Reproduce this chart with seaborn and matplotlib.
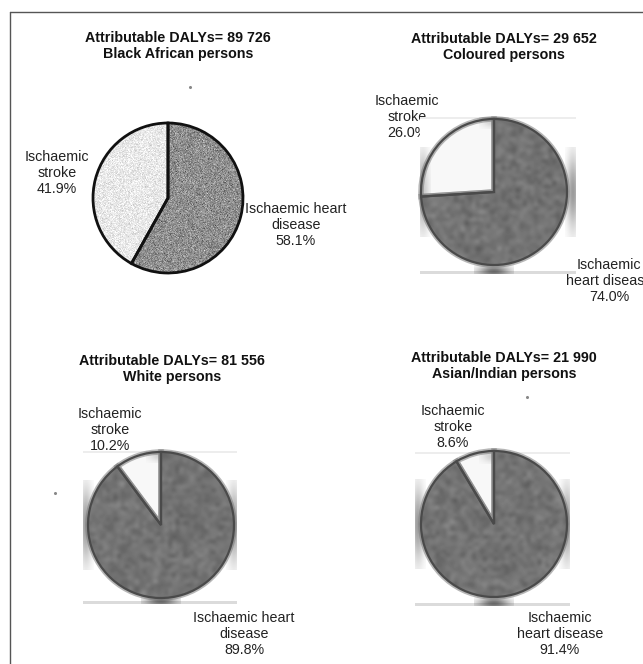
import numpy as np
import matplotlib
matplotlib.use("Agg")
import matplotlib.pyplot as plt
from matplotlib.patches import Rectangle
import seaborn as sns

# ---- data -------------------------------------------------------------
groups = ["Black African persons", "Coloured persons", "White persons", "Asian/Indian persons"]
attributable_dalys = ["89 726", "29 652", "81 556", "21 990"]
stroke_pct = [41.9, 26.0, 10.2, 8.6]
heart_pct = [58.1, 74.0, 89.8, 91.4]
heart_label_lines = ["Ischaemic heart\ndisease", "Ischaemic\nheart disease",
                     "Ischaemic heart\ndisease", "Ischaemic\nheart disease"]

# ---- page geometry (pixels, y measured from the top) -------------------
W, H = 643, 664
layout = [
    dict(center=(168, 198), r=75, title=(178, 46), stroke_xy=(57, 173), heart_xy=(296, 225), box=None),
    dict(center=(494, 192), r=73, title=(504, 47), stroke_xy=(407, 117), heart_xy=(609, 281), box=(420, 117, 576, 274)),
    dict(center=(161, 525), r=73, title=(172, 369), stroke_xy=(110, 430), heart_xy=(244, 634), box=(83, 451, 237, 604)),
    dict(center=(494, 524), r=73, title=(504, 366), stroke_xy=(453, 427), heart_xy=(560, 634), box=(415, 452, 570, 606)),
]

sns.set_theme(style="white")
plt.rcParams["font.family"] = ["Liberation Sans", "DejaVu Sans"]
greys = sns.color_palette("Greys", 10)

fig = plt.figure(figsize=(W / 100, H / 100), dpi=100)
ax = fig.add_axes([0, 0, 1, 1])
rng = np.random.default_rng(11)


def Y(y):
    return H - y


def textured(wedge, cx, cy, r, base, amp, n, interp):
    grain = np.clip(base + amp * rng.standard_normal((n, n)), 0, 1)
    im = ax.imshow(grain, cmap="gray", vmin=0, vmax=1, interpolation=interp,
                   extent=(cx - r, cx + r, Y(cy) - r, Y(cy) + r), zorder=3)
    im.set_clip_path(wedge)


def smudge(x, y, w, h, clip, strength=0.6, shade=0.35):
    """Soft grey blob centred on (x, y), w x h pixels, kept inside `clip`."""
    gx = np.linspace(-1, 1, 40)
    gy = np.linspace(-1, 1, 40)
    blob = np.exp(-(gx[None, :] ** 2 + gy[:, None] ** 2) * 1.6)
    rgb = np.full((40, 40, 3), shade)
    im = ax.imshow(rgb, alpha=blob * strength, interpolation="bilinear",
                   extent=(x - w / 2, x + w / 2, Y(y) - h / 2, Y(y) + h / 2), zorder=2.2)
    im.set_clip_path(clip)


for i, lay in enumerate(layout):
    cx, cy = lay["center"]
    r = lay["r"]
    scanned = lay["box"] is not None

    # title
    ax.text(lay["title"][0], Y(lay["title"][1]),
            f"Attributable DALYs= {attributable_dalys[i]}\n{groups[i]}",
            ha="center", va="center", fontsize=10.3, fontweight="bold",
            linespacing=1.2, color="#111111", zorder=1)

    # slice labels
    ax.text(lay["stroke_xy"][0], Y(lay["stroke_xy"][1]),
            f"Ischaemic\nstroke\n{stroke_pct[i]:.1f}%", ha="center", va="center",
            fontsize=10.3, linespacing=1.15, color="#222222", zorder=1)
    ax.text(lay["heart_xy"][0], Y(lay["heart_xy"][1]),
            f"{heart_label_lines[i]}\n{heart_pct[i]:.1f}%", ha="center", va="center",
            fontsize=10.3, linespacing=1.15, color="#222222", zorder=1)

    if scanned:
        x0, y0, x1, y1 = lay["box"]
        box = Rectangle((x0, Y(y1)), x1 - x0, y1 - y0, facecolor="white",
                        edgecolor="none", zorder=2)
        ax.add_patch(box)
        # soft grey strips along the pasted picture's edges
        ax.add_patch(Rectangle((x0, Y(y1)), x1 - x0, 3, facecolor="#c4c4c4",
                               edgecolor="none", alpha=0.6, zorder=2.1))
        ax.add_patch(Rectangle((x0, Y(y0) - 2), x1 - x0, 2, facecolor="#dddddd",
                               edgecolor="none", alpha=0.5, zorder=2.1))
        smudge(cx, y0 + 4, 30, 16, box)
        smudge(cx, y1 - 3, 40, 14, box, strength=0.75, shade=0.25)
        smudge(x0 + 3, cy, 16, 90, box)
        smudge(x1 - 3, cy, 16, 90, box)

        colors = ["#f4f4f4", "#717171"]
        wedges, _ = ax.pie([stroke_pct[i], heart_pct[i]], center=(cx, Y(cy)), radius=r,
                           startangle=90, counterclock=True, colors=colors, frame=True,
                           wedgeprops=dict(edgecolor="#7a7a7a", linewidth=4.0, alpha=0.55))
        for w in wedges:
            w.set_zorder(2.5)
        textured(wedges[1], cx, cy, r, 0.45, 0.045, 40, "bicubic")
        outline, _ = ax.pie([stroke_pct[i], heart_pct[i]], center=(cx, Y(cy)), radius=r,
                            startangle=90, counterclock=True, colors=["none", "none"], frame=True,
                            wedgeprops=dict(edgecolor="#4a4a4a", linewidth=1.6))
        for w in outline:
            w.set_zorder(4)
    else:
        colors = [greys[1], greys[5]]
        wedges, _ = ax.pie([stroke_pct[i], heart_pct[i]], center=(cx, Y(cy)), radius=r,
                           startangle=90, counterclock=True, colors=colors, frame=True,
                           wedgeprops=dict(edgecolor="none", linewidth=0))
        for w in wedges:
            w.set_zorder(2.5)
        textured(wedges[0], cx, cy, r, 0.91, 0.05, 150, "nearest")
        textured(wedges[1], cx, cy, r, 0.56, 0.08, 150, "nearest")
        outline, _ = ax.pie([stroke_pct[i], heart_pct[i]], center=(cx, Y(cy)), radius=r,
                            startangle=90, counterclock=True, colors=["none", "none"], frame=True,
                            wedgeprops=dict(edgecolor="#111111", linewidth=2.0))
        for w in outline:
            w.set_zorder(4)

# frame of the figure page
ax.plot([10, W], [Y(12), Y(12)], color="#555555", lw=1.0, zorder=5)
ax.plot([10, 10], [Y(12), 0], color="#555555", lw=1.0, zorder=5)

# stray specks
ax.plot([190, 527, 55], [Y(87), Y(397), Y(493)], ls="none", marker="o",
        ms=1.2, color="#888888", zorder=5)

ax.set_xlim(0, W)
ax.set_ylim(0, H)
ax.set_aspect("auto")
ax.axis("off")
fig.savefig("out.png", dpi=100, facecolor="white")
